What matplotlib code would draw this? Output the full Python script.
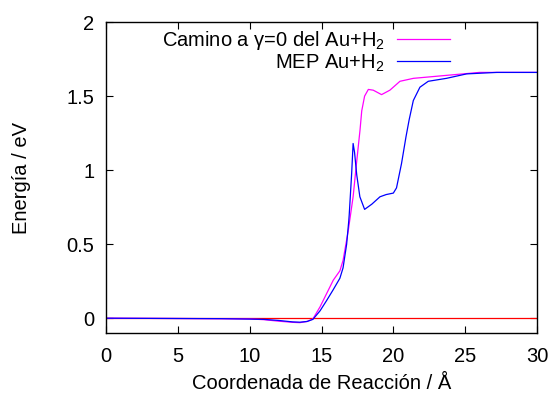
import matplotlib
matplotlib.use("Agg")
import matplotlib.pyplot as plt

plt.rcParams['font.family'] = ['Liberation Sans', 'DejaVu Sans']
plt.rcParams['mathtext.fontset'] = 'custom'
plt.rcParams['mathtext.rm'] = 'Liberation Sans'
plt.rcParams['mathtext.it'] = 'Liberation Sans'

# reference line at zero
ref_x = [0, 30]
ref_y = [0, 0]

# Camino a gamma=0 (magenta)
gam_x = [0, 5, 10, 11, 12, 13, 13.5, 14.0, 14.4, 14.9, 15.36, 15.82, 16.28,
         16.5, 16.86, 17.2, 17.44, 17.68, 17.8, 18.0, 18.26, 18.6, 19.18,
         19.76, 20.46, 21.4, 23.7, 26, 30]
gam_y = [0.0, -0.002, -0.005, -0.01, -0.02, -0.028, -0.03, -0.022, -0.005,
         0.077, 0.167, 0.257, 0.32, 0.39, 0.59, 0.82, 1.05, 1.27, 1.40, 1.50,
         1.545, 1.54, 1.51, 1.54, 1.60, 1.62, 1.64, 1.66, 1.66]

# MEP (blue)
mep_x = [0, 5, 8, 10, 11, 12, 13, 13.5, 14.0, 14.4, 14.9, 15.36, 15.8, 16.28,
         16.5, 16.75, 16.9, 16.93, 17.1, 17.2, 17.3, 17.45, 17.67, 18.0,
         18.5, 19.07, 19.5, 20.0, 20.22, 20.57, 20.88, 21.1, 21.39, 21.85,
         22.43, 23.7, 25.1, 27.2, 30]
mep_y = [0.0, -0.002, -0.003, -0.006, -0.008, -0.015, -0.025, -0.027, -0.022,
         -0.008, 0.05, 0.12, 0.19, 0.27, 0.34, 0.50, 0.66, 0.70, 0.98, 1.18,
         1.12, 0.97, 0.82, 0.735, 0.77, 0.82, 0.835, 0.845, 0.88, 1.045,
         1.225, 1.34, 1.47, 1.56, 1.60, 1.62, 1.65, 1.66, 1.66]

xticks = [0, 5, 10, 15, 20, 25, 30]
yticks = [0, 0.5, 1, 1.5, 2]
ytick_labels = ['0', '0.5', '1', '1.5', '2']

fig = plt.figure(figsize=(5.5, 3.94), dpi=100)
ax = fig.add_axes([0.1927, 0.1548, 0.7837, 0.7892])

ax.plot(ref_x, ref_y, color='#ff0000', lw=0.9)
ax.plot(gam_x, gam_y, color='#ff00ff', lw=0.9,
        label=r'Camino a γ=0 del Au+H$_2$')
ax.plot(mep_x, mep_y, color='#0000ff', lw=0.9, label=r'MEP Au+H$_2$')

ax.set_xlim(0, 30)
ax.set_ylim(-0.1, 2)
ax.set_xticks(xticks)
ax.set_yticks(yticks)
ax.set_yticklabels(ytick_labels)
ax.tick_params(direction='in', top=True, right=True, length=5, width=0.8,
               labelsize=14.5)
ax.tick_params(axis='x', pad=10)
ax.tick_params(axis='y', pad=8.5)
for s in ax.spines.values():
    s.set_linewidth(1.0)

ax.set_xlabel('Coordenada de Reacción / Å', fontsize=14.5)
ax.set_ylabel('Energía / eV', fontsize=14.5)
ax.xaxis.set_label_coords(0.5, -0.133)
ax.yaxis.set_label_coords(-0.174, 0.5)

ax.legend(loc='upper right', bbox_to_anchor=(0.798, 0.977), frameon=False,
          markerfirst=False, fontsize=14.5, handlelength=2.65,
          labelspacing=0.0, handletextpad=0.6, borderpad=0,
          borderaxespad=0)

fig.savefig('out.png', dpi=100)
